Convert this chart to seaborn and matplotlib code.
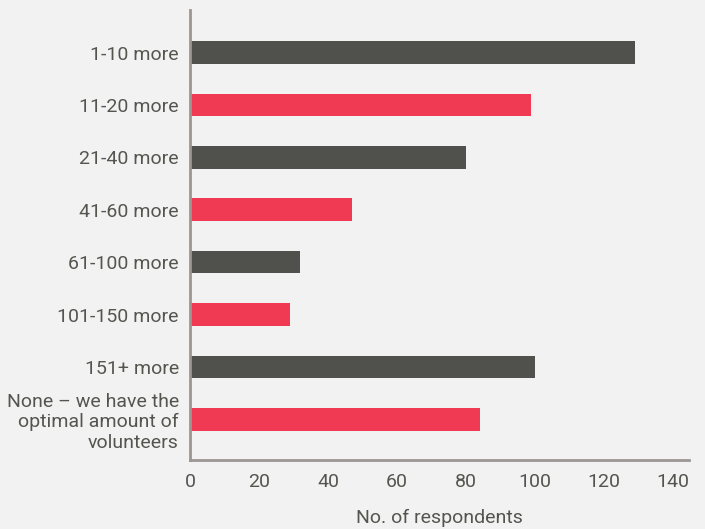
import matplotlib
matplotlib.use("Agg")
import matplotlib.pyplot as plt
import seaborn as sns
import pandas as pd

# data
categories = ["1-10 more", "11-20 more", "21-40 more", "41-60 more",
              "61-100 more", "101-150 more", "151+ more",
              "None \u2013 we have the\noptimal amount of\nvolunteers"]
respondents = [129, 99, 80, 47, 32, 29, 100, 84]
xticks = [0, 20, 40, 60, 80, 100, 120, 140]

dark = "#50514c"
red = "#f03a53"
bg = "#f2f2f2"
txt = "#555550"
axis_col = "#9c9693"

df = pd.DataFrame({"cat": categories, "n": respondents})

sns.set_style("white")
plt.rcParams["font.family"] = ["Roboto", "DejaVu Sans"]

fig = plt.figure(figsize=(7.05, 5.29), dpi=100, facecolor=bg)
ax = fig.add_axes([0.2695, 0.130, 0.7075, 0.851])
ax.set_facecolor(bg)

colors = [dark if i % 2 == 0 else red for i in range(len(categories))]
sns.barplot(data=df, x="n", y="cat", hue="cat", palette=colors, legend=False,
            width=0.43, saturation=1, linewidth=0, ax=ax)

ax.set_xlim(0, 144.6)
ax.set_ylim(7.78, -0.81)
ax.set_xticks(xticks)
ax.set_xticklabels([str(t) for t in xticks])
ax.tick_params(axis="both", length=0, colors=txt, labelsize=14)
ax.tick_params(axis="y", pad=8)
ax.tick_params(axis="x", pad=9)
for lab in ax.get_yticklabels():
    lab.set_linespacing(1.15)
ax.set_ylabel("")
ax.set_xlabel("No. of respondents", color=txt, fontsize=14, labelpad=13)

for s in ["top", "right"]:
    ax.spines[s].set_visible(False)
for s in ["left", "bottom"]:
    ax.spines[s].set_color(axis_col)
    ax.spines[s].set_linewidth(2)

fig.savefig("out.png", dpi=100, facecolor=bg)
